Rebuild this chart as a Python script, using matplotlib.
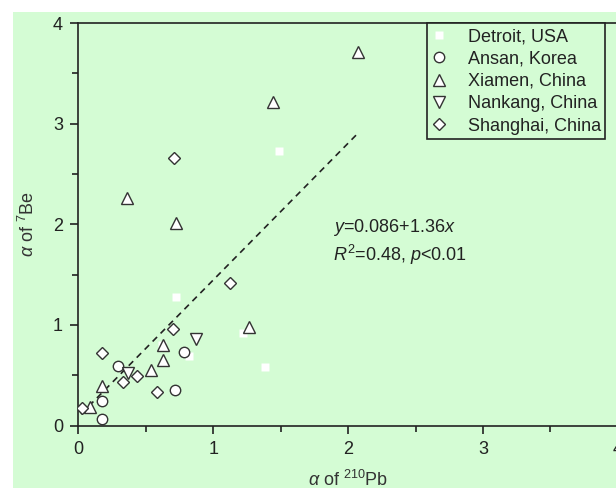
import matplotlib
matplotlib.use("Agg")
import matplotlib.pyplot as plt
from matplotlib.lines import Line2D
from matplotlib.patches import Rectangle
import numpy as np

plt.rcParams['font.family'] = ['Liberation Sans', 'DejaVu Sans']
plt.rcParams['mathtext.fontset'] = 'custom'
plt.rcParams['mathtext.rm'] = 'Liberation Sans'
plt.rcParams['mathtext.it'] = 'Liberation Sans:italic'

# ---- data ----
detroit_x = [1.485, 0.723, 1.381, 1.22, 0.817, 0.619]
detroit_y = [2.724, 1.278, 0.579, 0.92, 0.695, 0.798]

ansan_x = [0.297, 0.173, 0.173, 0.78, 0.72]
ansan_y = [0.596, 0.242, 0.06, 0.728, 0.348]

xiamen_x = [0.173, 0.087, 0.537, 0.626, 0.626, 1.262, 0.359, 0.723, 1.44, 2.074]
xiamen_y = [0.397, 0.185, 0.556, 0.656, 0.80, 0.98, 2.261, 2.013, 3.214, 3.717]

nankang_x = [0.874, 0.371]
nankang_y = [0.861, 0.523]

shanghai_x = [0.178, 0.329, 0.433, 0.587, 0.705, 1.126, 0.03, 0.71]
shanghai_y = [0.722, 0.43, 0.497, 0.331, 0.96, 1.417, 0.175, 2.664]

fit_a, fit_b = 0.086, 1.36
fit_range = [0.02, 2.07]

labels = ["Detroit, USA", "Ansan, Korea", "Xiamen, China", "Nankang, China", "Shanghai, China"]
x_ticks = [0, 1, 2, 3, 4]
y_ticks = [0, 1, 2, 3, 4]

# ---- figure ----
W, H = 616, 488
green = '#d4fcd4'
fig = plt.figure(figsize=(W / 100, H / 100), dpi=100, facecolor='white')
fig.patches.append(Rectangle((13 / W, 0), 1 - 13 / W, 1 - 12 / H, transform=fig.transFigure,
                             facecolor=green, edgecolor='none', zorder=-10))

x0px, y0px = 78.3, 425.5
pxu_x, pxu_y = 134.9, 100.6
xmax = 4.1
ax = fig.add_axes([x0px / W, (H - y0px) / H, xmax * pxu_x / W, 4 * pxu_y / H])
ax.set_facecolor(green)
ax.set_xlim(0, xmax)
ax.set_ylim(0, 4)

for s in ['left', 'bottom', 'top']:
    ax.spines[s].set_color('#222222')
    ax.spines[s].set_linewidth(1.2)
ax.spines['right'].set_visible(False)

ax.set_xticks(x_ticks)
ax.set_yticks(y_ticks)
ax.set_xticks(np.arange(0.5, 4.1, 1.0), minor=True)
ax.set_yticks(np.arange(0.5, 4.0, 1.0), minor=True)
ax.tick_params(which='major', direction='out', length=6, width=1.2, color='#222222',
               labelsize=13, labelcolor='#222222', pad=5)
ax.tick_params(which='minor', direction='out', length=4, width=1.2, color='#222222')
ax.tick_params(top=False, right=False)

ec = '#333333'
mew = 1.0
ax.plot(detroit_x, detroit_y, ls='none', marker='s', ms=5.8, mfc='white', mec='none', zorder=3)
ax.plot(ansan_x, ansan_y, ls='none', marker='o', ms=7.5, mfc='white', mec=ec, mew=mew, zorder=3)
ax.plot(xiamen_x, xiamen_y, ls='none', marker='^', ms=8, mfc='white', mec=ec, mew=mew, zorder=3)
ax.plot(nankang_x, nankang_y, ls='none', marker='v', ms=8, mfc='white', mec=ec, mew=mew, zorder=3)
ax.plot(shanghai_x, shanghai_y, ls='none', marker='D', ms=6.5, mfc='white', mec=ec, mew=mew, zorder=3)

fx = np.array(fit_range)
ax.plot(fx, fit_a + fit_b * fx, color='#222222', lw=1.2, ls=(0, (3.8, 3)), zorder=2)

ax.text(333 / W, 1 - 228 / H, r'$y$=0.086+1.36$x$', transform=fig.transFigure,
        fontsize=13, color='#222222', va='center', ha='left')
ax.text(333 / W, 1 - 255 / H, r'$R^2$=0.48, $p$<0.01', transform=fig.transFigure,
        fontsize=13, color='#222222', va='center', ha='left')

fig.text(348 / W, 1 - 480 / H, r'$\alpha$ of $^{210}$Pb', fontsize=13, color='#333333',
         ha='center', va='center')
fig.text(28 / W, 1 - 224 / H, r'$\alpha$ of $^{7}$Be', fontsize=13, color='#333333',
         ha='center', va='center', rotation=90)

handles = [
    Line2D([], [], ls='none', marker='s', ms=5.8, mfc='white', mec='none'),
    Line2D([], [], ls='none', marker='o', ms=7.5, mfc='white', mec=ec, mew=mew),
    Line2D([], [], ls='none', marker='^', ms=8, mfc='white', mec=ec, mew=mew),
    Line2D([], [], ls='none', marker='v', ms=8, mfc='white', mec=ec, mew=mew),
    Line2D([], [], ls='none', marker='D', ms=6.5, mfc='white', mec=ec, mew=mew),
]
leg = ax.legend(handles, labels, loc='upper left', bbox_to_anchor=(427 / W, 1 - 23.5 / H),
                bbox_transform=fig.transFigure, frameon=True, fancybox=False, framealpha=1,
                facecolor=green, edgecolor='#222222', fontsize=13, borderaxespad=0,
                borderpad=0.25, handlelength=0.8, handletextpad=1.2, labelspacing=0.3)
leg.get_frame().set_linewidth(1.2)
for t in leg.get_texts():
    t.set_color('#222222')

fig.savefig('out.png', dpi=100, facecolor=fig.get_facecolor())
